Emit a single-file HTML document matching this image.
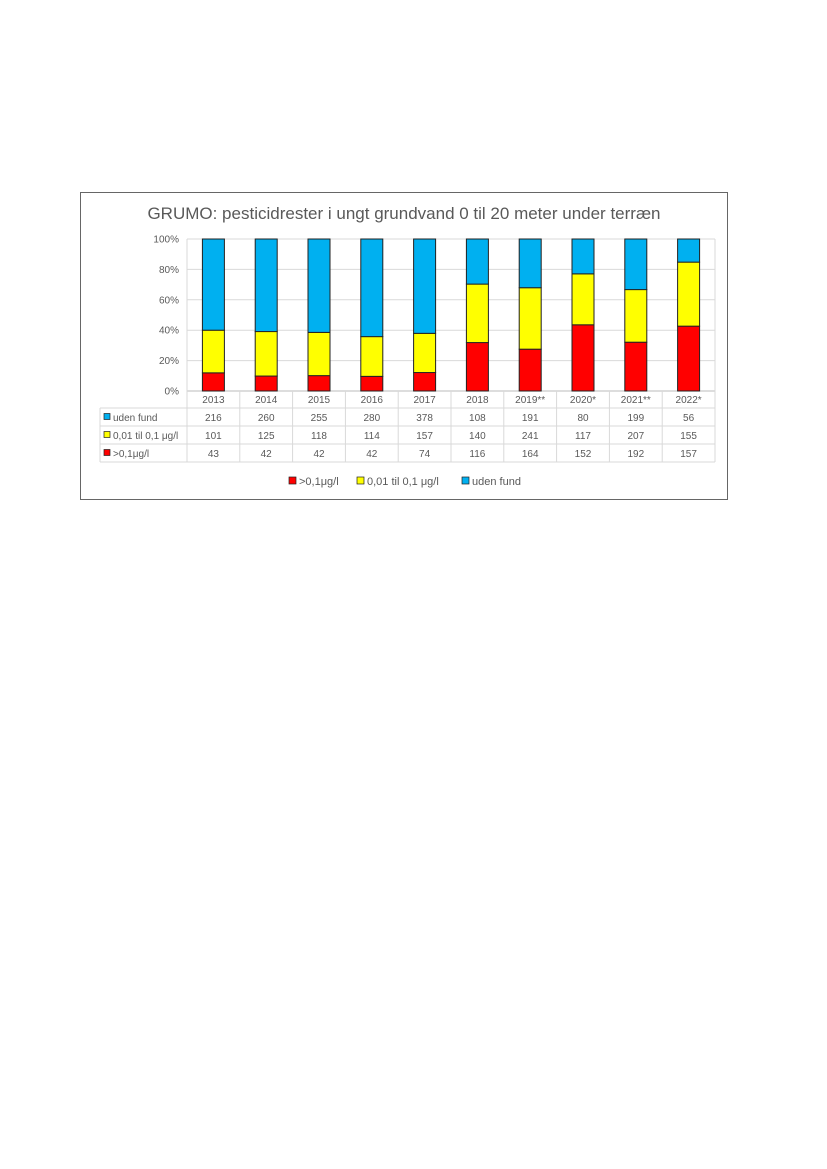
<!DOCTYPE html>
<html><head><meta charset="utf-8"><style>
body{margin:0;background:#fff;width:827px;height:1169px;position:relative;font-family:"Liberation Sans",sans-serif}
#frame{position:absolute;left:80px;top:192px;width:648px;height:308px;border:1px solid #666;box-sizing:border-box}
</style></head><body>
<div id="frame"></div>
<svg id="chart" width="827" height="1169" style="position:absolute;left:0;top:0">
<text x="404" y="219" text-anchor="middle" font-size="17" fill="#595959">GRUMO: pesticidrester  i ungt grundvand 0 til 20 meter under terræn</text>
<g id="g"></g>
</svg>
<script>
const categories=["2013","2014","2015","2016","2017","2018","2019**","2020*","2021**","2022*"];
const udenFund=[216,260,255,280,378,108,191,80,199,56];
const lav=[101,125,118,114,157,140,241,117,207,155];
const hoej=[43,42,42,42,74,116,164,152,192,157];
const yTicks=[0,20,40,60,80,100];
const ns="http://www.w3.org/2000/svg";
const g=document.getElementById('g');
const L=187,R=715,T=239,B=391,cw=(R-L)/categories.length,bw=22;
const y=p=>B-(B-T)*p/100;
const x=i=>L+cw*i+cw/2;
function mk(t,a,txt){const e=document.createElementNS(ns,t);for(const k in a)e.setAttribute(k,a[k]);if(txt!=null)e.textContent=txt;g.appendChild(e);return e;}
yTicks.forEach(v=>{
 const l=mk('line',{x1:L,x2:R,y1:y(v),y2:y(v),stroke:v==0?'#bbb':'#d9d9d9','stroke-width':1});
 
 
 const t=mk('text',{x:L-8,y:y(v)+3.5,'text-anchor':'end','font-size':10,fill:'#595959'},v+'%');
 
 
});
mk('line',{x1:R,x2:R,y1:T,y2:B,stroke:'#d9d9d9'});
mk('line',{x1:L,x2:L,y1:T,y2:B,stroke:'#d9d9d9'});
const series=[[hoej,'#ff0000','hoej'],[lav,'#ffff00','lav'],[udenFund,'#00b0f0','uden-fund']];
categories.forEach((c,i)=>{
 const tot=udenFund[i]+lav[i]+hoej[i];let acc=0;
 series.forEach(([arr,col,n])=>{
  const p=arr[i]/tot*100;
  const r=mk('rect',{x:x(i)-bw/2,y:y(acc+p),width:bw,height:y(acc)-y(acc+p),fill:col,stroke:'#222','stroke-width':1});
  
  
  acc+=p;
 });
});
// table
const rows=[["uden fund",'#00b0f0',udenFund],["0,01 til 0,1 μg/l",'#ffff00',lav],[">0,1μg/l",'#ff0000',hoej]];
const TL=100,rh=18;
mk('line',{x1:TL,x2:R,y1:B+17,y2:B+17,stroke:'#d9d9d9'});
categories.forEach((c,i)=>{
 const t=mk('text',{x:x(i),y:B+12,'text-anchor':'middle','font-size':10,fill:'#595959'},c);
 
 
});
for(let i=0;i<=categories.length;i++) mk('line',{x1:L+cw*i,x2:L+cw*i,y1:B,y2:B+17+rh*3,stroke:'#d9d9d9'});
mk('line',{x1:TL,x2:TL,y1:B+17,y2:B+17+rh*3,stroke:'#d9d9d9'});
rows.forEach(([lab,col,arr],r)=>{
 const yy=B+17+rh*(r+1);
 mk('line',{x1:TL,x2:R,y1:yy,y2:yy,stroke:'#d9d9d9'});
 mk('rect',{x:TL+4,y:yy-rh/2-3.5,width:6,height:6,fill:col,stroke:'#222','stroke-width':0.7});
 const lt=mk('text',{x:TL+13,y:yy-5,'font-size':10,fill:'#595959'},lab);
 
 
 arr.forEach((v,i)=>{
  const t=mk('text',{x:x(i),y:yy-5,'text-anchor':'middle','font-size':10,fill:'#595959'},v);
  
  
 });
});
// legend
const leg=[[">0,1μg/l",'#ff0000',289],["0,01 til 0,1 μg/l",'#ffff00',357],["uden fund",'#00b0f0',462]];
leg.forEach(([lab,col,lx])=>{
 const r=mk('rect',{x:lx,y:477,width:7,height:7,fill:col,stroke:'#222','stroke-width':0.7});
 
 
 const t=mk('text',{x:lx+10,y:485,'font-size':11,fill:'#595959'},lab);
 
 
});
</script>
</body></html>
